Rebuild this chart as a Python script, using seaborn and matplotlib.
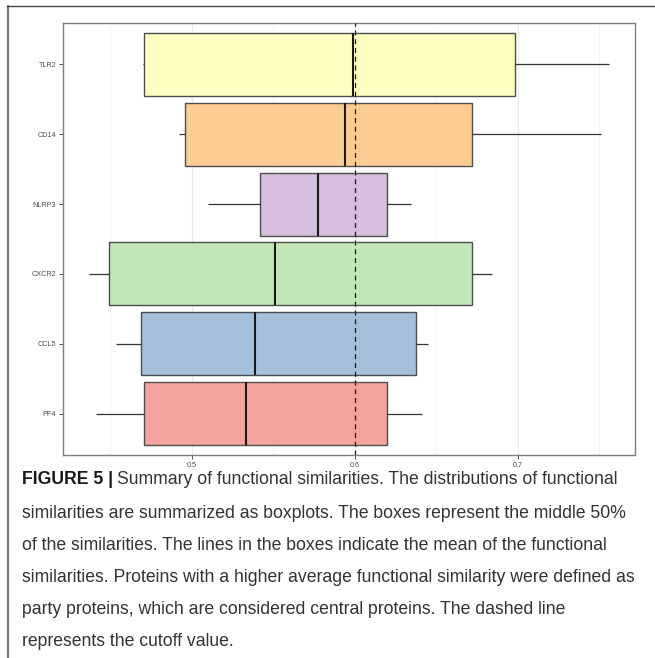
import numpy as np
import pandas as pd
import matplotlib
matplotlib.use("Agg")
import matplotlib.pyplot as plt
from matplotlib.lines import Line2D
from matplotlib.ticker import MultipleLocator
import seaborn as sns

# Functional similarity summary per protein (top to bottom)
proteins = ["TLR2", "CD14", "NLRP3", "CXCR2", "CCL5", "PF4"]
whisker_low = [0.4698, 0.4920, 0.5098, 0.4370, 0.4534, 0.4411]
q1 = [0.4706, 0.4959, 0.5417, 0.4493, 0.4689, 0.4706]
center = [0.5986, 0.5939, 0.5771, 0.5509, 0.5385, 0.5331]
q3 = [0.6982, 0.6720, 0.6198, 0.6720, 0.6374, 0.6196]
whisker_high = [0.7558, 0.7507, 0.6342, 0.6840, 0.6448, 0.6409]
box_colors = ["#FFFFC3", "#FCCD92", "#D5BFDC", "#C2E6B8", "#A6C0DC", "#F5A39E"]
cutoff = 0.6
x_ticks = [0.5, 0.6, 0.7]

caption_head = "FIGURE 5 |"
caption_lines = [
    "Summary of functional similarities. The distributions of functional",
    "similarities are summarized as boxplots. The boxes represent the middle 50%",
    "of the similarities. The lines in the boxes indicate the mean of the functional",
    "similarities. Proteins with a higher average functional similarity were defined as",
    "party proteins, which are considered central proteins. The dashed line",
    "represents the cutoff value.",
]

# Five summary points per protein; with full-range whiskers they reproduce the boxes
rows = []
for i, p in enumerate(proteins):
    for v in (whisker_low[i], q1[i], center[i], q3[i], whisker_high[i]):
        rows.append({"protein": p, "similarity": v})
df = pd.DataFrame(rows)

sns.set_style("white")
plt.rcParams["font.family"] = ["Liberation Sans", "DejaVu Sans"]

W, H = 655, 658
fig = plt.figure(figsize=(W / 100, H / 100), dpi=100)
ax = fig.add_axes([63 / W, 1 - 455 / H, (635 - 63) / W, (455 - 23) / H])

ax.set_axisbelow(True)
ax.xaxis.set_major_locator(MultipleLocator(0.1))
ax.xaxis.set_minor_locator(MultipleLocator(0.05))
ax.grid(which="major", axis="both", color="#EBEBEB", linewidth=0.9)
ax.grid(which="minor", axis="x", color="#F3F3F3", linewidth=0.6)

sns.boxplot(
    data=df, x="similarity", y="protein", hue="protein", order=proteins,
    hue_order=proteins, palette=box_colors, legend=False, saturation=1,
    width=0.9, whis=(0, 100), showcaps=False, showfliers=False,
    linewidth=1.0, linecolor="#4D4D4D",
    medianprops={"color": "#1A1A1A", "linewidth": 1.5},
    whiskerprops={"color": "#333333", "linewidth": 0.9},
    ax=ax,
)

ax.axvline(cutoff, color="#1A1A1A", linestyle=(0, (4, 3)), linewidth=0.9, zorder=5)

ax.set_xlim(0.4209, 0.7718)
ax.set_ylim(len(proteins) - 0.5 + 0.086, -0.586)
ax.set_xticks(x_ticks)
ax.set_xticklabels([f"{t:.1f}" for t in x_ticks])
ax.set_xlabel("")
ax.set_ylabel("")
ax.tick_params(axis="both", which="major", length=3, width=0.6, color="#333333",
               labelsize=5.2, labelcolor="#4D4D4D", pad=2,
               bottom=True, left=True)
ax.tick_params(axis="x", which="minor", length=0)
for s in ax.spines.values():
    s.set_color("#7F7F7F")
    s.set_linewidth(1.0)

# Partial frame around the figure
fig.add_artist(Line2D([7.5 / W, 7.5 / W], [0, 1 - 6 / H], transform=fig.transFigure,
                      color="#7A7A7A", linewidth=1.6))
fig.add_artist(Line2D([7 / W, 1], [1 - 6 / H, 1 - 6 / H], transform=fig.transFigure,
                      color="#444444", linewidth=1.0))

# Caption: size chosen so the widest line spans the text column
cap_family = ["Liberation Sans", "DejaVu Sans"]
x_left, x_right = 22, 634
line_y = [480, 513, 545, 578, 610, 642]
fig.canvas.draw()
renderer = fig.canvas.get_renderer()
probe = fig.text(0, 0, caption_lines[3], fontsize=13, family=cap_family)
pw = probe.get_window_extent(renderer=renderer).width
probe.remove()
fs = 13 * (x_right - x_left) / pw

bold = fig.text(x_left / W, 1 - line_y[0] / H, caption_head, fontsize=fs,
                family=cap_family, fontweight="bold", color="#1A1A1A",
                va="center", ha="left")
bb = bold.get_window_extent(renderer=renderer)
fig.text((bb.x1 + 4) / W, 1 - line_y[0] / H, caption_lines[0], fontsize=fs,
         family=cap_family, color="#333333", va="center", ha="left")
for y, line in zip(line_y[1:], caption_lines[1:]):
    fig.text(x_left / W, 1 - y / H, line, fontsize=fs, family=cap_family,
             color="#333333", va="center", ha="left")

fig.savefig("out.png", dpi=100)
